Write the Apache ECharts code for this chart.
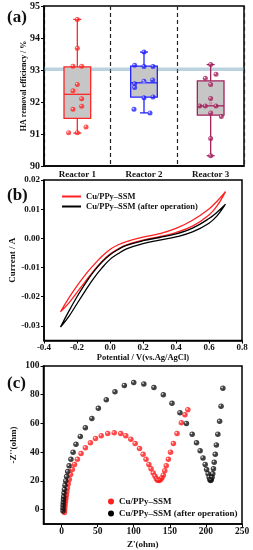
<!DOCTYPE html>
<html><head><meta charset="utf-8">
<script src="https://cdn.jsdelivr.net/npm/echarts@6/dist/echarts.min.js"></script>
<style>html,body{margin:0;padding:0;background:#fff}#c{width:253px;height:550px}</style>
</head><body><div id="c"></div><script>
// ---------- Panel (a) data ----------
const reactors = ['Reactor 1', 'Reactor 2', 'Reactor 3'];
// [min, Q1, median, Q3, max]
const boxStats = [
  [91.03, 91.49, 92.24, 93.10, 94.58],
  [91.66, 92.15, 92.60, 93.12, 93.56],
  [90.32, 91.59, 91.88, 92.66, 93.17]
];
// [position (reactor index, jittered), value]
const r1Points = [[1,94.58],[1,93.68],[0.935,93.12],[1.065,93.12],[1,92.55],[0.935,92.35],[1.065,92.10],[1.065,91.87],[0.935,91.77],[1.13,91.22],[0.87,91.04],[1,91.04]];
const r2Points = [[2,93.56],[1.86,93.15],[2,93.11],[2.135,93.11],[1.86,92.57],[1.86,92.45],[2,92.65],[2.13,92.69],[2,92.13],[2.135,92.16],[1.85,91.77],[2.09,91.66]];
const r3Points = [[3,93.17],[3.08,92.87],[2.92,92.74],[3,92.55],[3,92.11],[2.835,91.875],[2.92,91.875],[3.08,91.875],[3,91.66],[3.16,91.55],[3,90.86],[3,90.32]];
const meanPoints = [[1,92.37],[2,92.60],[3,91.96]];
const targetBand = [92.97, 93.08];

// ---------- Panel (b) data ----------
const cvPotential = [-0.3,-0.25,-0.2,-0.15,-0.1,-0.05,0,0.05,0.1,0.2,0.3,0.4,0.5,0.6,0.65,0.7];
const redUpper   = [-0.0252,-0.0205,-0.0163,-0.0125,-0.0092,-0.0062,-0.0038,-0.0022,-0.0011,0.0004,0.0016,0.0034,0.0062,0.0101,0.0128,0.0160];
const redLower   = [-0.0252,-0.0222,-0.0185,-0.0148,-0.0112,-0.0080,-0.0054,-0.0036,-0.0022,-0.0006,0.0006,0.0020,0.0042,0.0080,0.0112,0.0160];
const blackUpper = [-0.0304,-0.0250,-0.0200,-0.0155,-0.0115,-0.0082,-0.0056,-0.0038,-0.0024,-0.0008,0.0003,0.0015,0.0035,0.0068,0.0090,0.0117];
const blackLower = [-0.0304,-0.0268,-0.0224,-0.0180,-0.0138,-0.0102,-0.0072,-0.0052,-0.0036,-0.0018,-0.0006,0.0005,0.0022,0.0052,0.0078,0.0117];
const bXTicks = [-0.4,-0.2,0,0.2,0.4,0.6,0.8];
const bYTicks = [-0.03,-0.02,-0.01,0,0.01,0.02];

// ---------- Panel (c) data ----------
const redZre = [4,4.3,4.6,5,5.5,6,6.6,7.3,8.2,9.3,10.7,12.5,15,18,22,27,33,40,47,55,64,73,82,89,96,102,108,113,117,121,124,127,129.5,131.5,133,135,137,139,141,143,145,148,151,155,160,166,171,175];
const redZim = [-2,0,2,4,6,8,10,12.5,15,18,21,24.5,28,31.5,35,39,43,46.5,49.5,51.5,53,53.5,53,51.5,49,46,42.5,38.5,35,31.5,28.5,25.5,23.3,21.5,20.5,20.3,20.8,22,24,27,30.5,35,40,46,53,60.5,66,69.5];
const blkZre = [2,2,2.2,2.4,2.7,3,3.4,4,4.8,5.8,7,8.5,10.5,13,16,20,26,33,42,51,62,74,87,100,114,128,141,153,164,173,181,187,192,196,199,201,203,204.5,205.5,206.5,207.5,208.5,209.5,210.5,211.5,213,214.5,216.5,219,221,223.5];
const blkZim = [-1,1,3,5,7,9,11.5,14,17,20,23,26.5,30.5,35,40,45.5,51,57,63.5,70.5,76.5,82,86.5,88.5,87.5,85,80,74,67.5,60,52.5,46.5,41,36,31.5,28,25,22.5,20.8,20.2,20.8,22.5,25,28.5,33,38.5,45,52.5,61.5,72,84.5];
const cXTicks = [0,50,100,150,200,250];
const cYTicks = [0,20,40,60,80,100];

const seriesNames = ['Cu/PPy\u2013SSM', 'Cu/PPy\u2013SSM (after operation)'];
const boxColors = ['#ff2626', '#2424ff', '#a3205c'];
const meanColors = ['#ff9c9c', '#9c9cff', '#d08aa8'];

const FONT = '"Liberation Serif", "DejaVu Serif", serif';
const lbl = (size) => ({ fontFamily: FONT, fontWeight: 'bold', fontSize: size, color: '#111' });

function sphere(c) {
  return new echarts.graphic.RadialGradient(0.35, 0.35, 0.7, [
    { offset: 0, color: '#ffffff' }, { offset: 0.35, color: c }, { offset: 1, color: c }
  ]);
}

const chart = echarts.init(document.getElementById('c'), null, { renderer: 'canvas' });

const boxData = boxStats.map((s, i) => [i + 1].concat(s));
const loop = (up, lo) => cvPotential.map((v, i) => [v, up[i]]).concat(cvPotential.slice().reverse().map((v, i) => [v, lo[lo.length - 1 - i]]));
const pairs = (xs, ys) => xs.map((x, i) => [x, ys[i]]);

const valAxisCommon = {
  splitLine: { show: false },
  nameMoveOverlap: false,
  axisLine: { show: true, onZero: false, lineStyle: { color: '#000', width: 1.5 } }
};

const option = {
  animation: false,
  backgroundColor: '#fff',
  title: [
    { text: '(a)', left: 2, top: 4, textStyle: lbl(17) },
    { text: '(b)', left: 2, top: 182, textStyle: lbl(17) },
    { text: '(c)', left: 2, top: 370, textStyle: lbl(17) }
  ],
  grid: [
    { left: 44, width: 200, top: 6, height: 160, show: true, borderColor: '#000', borderWidth: 1.5 },
    { left: 44, width: 198, top: 180, height: 160.5, show: true, borderColor: '#000', borderWidth: 1.5 },
    { left: 43.5, width: 198.5, top: 366, height: 160.5, show: true, borderColor: '#000', borderWidth: 1.5 }
  ],
  legend: [
    { orient: 'vertical', left: 57, top: 187, itemWidth: 19, itemHeight: 2, itemGap: 1,
      textStyle: lbl(8.5), icon: 'rect',
      data: [{ name: seriesNames[0], itemStyle: { color: '#ff2020' } }, { name: seriesNames[1], itemStyle: { color: '#000' } }] },
    { orient: 'vertical', left: 103, top: 492, itemWidth: 6, itemHeight: 6, itemGap: 3,
      textStyle: lbl(9), icon: 'circle',
      data: [{ name: seriesNames[0], itemStyle: { color: '#ff2020' } }, { name: seriesNames[1], itemStyle: { color: '#000' } }] }
  ],
  xAxis: [
    { gridIndex: 0, type: 'category', data: reactors,
      axisLine: { show: true, lineStyle: { color: '#000', width: 1.5 } },
      axisTick: { show: false },
      axisLabel: Object.assign(lbl(9), { margin: 4 }),
      splitLine: { show: true, lineStyle: { color: '#222', type: [4, 3], width: 1.2 } } },
    { gridIndex: 0, type: 'value', min: 0.5, max: 3.5, show: false },
    Object.assign({ gridIndex: 1, type: 'value', min: -0.4, max: 0.8,
      name: 'Potential / V(vs.Ag/AgCl)', nameLocation: 'middle', nameGap: 13, nameTextStyle: lbl(8.5),
      axisLabel: Object.assign(lbl(9), { margin: 3, customValues: bXTicks, formatter: v => v.toFixed(1) }),
      axisTick: { show: true, length: 3, customValues: bXTicks }
    }, valAxisCommon),
    Object.assign({ gridIndex: 2, type: 'value', min: -25, max: 250,
      name: "Z'(ohm)", nameLocation: 'middle', nameGap: 16, nameTextStyle: lbl(9),
      axisLabel: Object.assign(lbl(9.5), { margin: 3, customValues: cXTicks }),
      axisTick: { show: true, length: 3, customValues: cXTicks }
    }, valAxisCommon)
  ],
  yAxis: [
    Object.assign({ gridIndex: 0, type: 'value', min: 90, max: 95, interval: 1,
      name: 'HA removal efficiency / %', nameLocation: 'middle', nameGap: 16, nameTextStyle: lbl(8),
      axisTick: { show: true, length: 3 },
      axisLabel: Object.assign(lbl(10), { margin: 4 }) }, valAxisCommon),
    Object.assign({ gridIndex: 1, type: 'value', min: -0.035, max: 0.02,
      name: 'Current / A', nameLocation: 'middle', nameGap: 27, nameTextStyle: lbl(9),
      axisTick: { show: true, length: 3, customValues: bYTicks },
      axisLabel: Object.assign(lbl(9), { margin: 4, customValues: bYTicks, formatter: v => v.toFixed(2) }) },
      valAxisCommon),
    Object.assign({ gridIndex: 2, type: 'value', min: -10, max: 100,
      name: "-Z''(ohm)", nameLocation: 'middle', nameGap: 25, nameTextStyle: lbl(9),
      axisTick: { show: true, length: 3, customValues: cYTicks },
      axisLabel: Object.assign(lbl(9.5), { margin: 4, customValues: cYTicks }) },
      valAxisCommon)
  ],
  series: [
    { type: 'custom', xAxisIndex: 1, yAxisIndex: 0, z: 2, data: boxData,
      renderItem: function (params, api) {
        const i = params.dataIndex, x = api.value(0);
        const v = [1, 2, 3, 4, 5].map(k => api.value(k));
        const pMin = api.coord([x, v[0]]), pQ1 = api.coord([x, v[1]]), pMd = api.coord([x, v[2]]),
              pQ3 = api.coord([x, v[3]]), pMax = api.coord([x, v[4]]);
        const bw = api.size([0.4, 0])[0], cw = api.size([0.12, 0])[0];
        const col = boxColors[i];
        const st = { stroke: col, lineWidth: 1.3, fill: null };
        return { type: 'group', children: [
          { type: 'line', shape: { x1: pMax[0], y1: pMax[1], x2: pQ3[0], y2: pQ3[1] }, style: st },
          { type: 'line', shape: { x1: pQ1[0], y1: pQ1[1], x2: pMin[0], y2: pMin[1] }, style: st },
          { type: 'line', shape: { x1: pMax[0] - cw / 2, y1: pMax[1], x2: pMax[0] + cw / 2, y2: pMax[1] }, style: st },
          { type: 'line', shape: { x1: pMin[0] - cw / 2, y1: pMin[1], x2: pMin[0] + cw / 2, y2: pMin[1] }, style: st },
          { type: 'rect', shape: { x: pQ3[0] - bw / 2, y: pQ3[1], width: bw, height: pQ1[1] - pQ3[1] },
            style: { fill: '#c6c6c6', stroke: col, lineWidth: 1.3 } },
          { type: 'line', shape: { x1: pMd[0] - bw / 2, y1: pMd[1], x2: pMd[0] + bw / 2, y2: pMd[1] }, style: st }
        ] };
      } },
    { type: 'scatter', xAxisIndex: 1, yAxisIndex: 0, z: 3, data: [], symbolSize: 0,
      markArea: { silent: true, itemStyle: { color: 'rgba(90,150,172,0.42)' },
        data: [[{ yAxis: targetBand[0] }, { yAxis: targetBand[1] }]] } },
    { type: 'scatter', xAxisIndex: 1, yAxisIndex: 0, z: 4, data: r1Points, symbolSize: 5, itemStyle: { color: sphere(boxColors[0]) } },
    { type: 'scatter', xAxisIndex: 1, yAxisIndex: 0, z: 4, data: r2Points, symbolSize: 5, itemStyle: { color: sphere(boxColors[1]) } },
    { type: 'scatter', xAxisIndex: 1, yAxisIndex: 0, z: 4, data: r3Points, symbolSize: 5, itemStyle: { color: sphere(boxColors[2]) } },
    { type: 'scatter', xAxisIndex: 1, yAxisIndex: 0, z: 4, data: meanPoints, symbolSize: 3.5,
      itemStyle: { color: p => meanColors[p.dataIndex] } },

    { name: seriesNames[0], type: 'line', xAxisIndex: 2, yAxisIndex: 1, data: loop(redUpper, redLower),
      smooth: 0.4, showSymbol: false, symbol: 'none', lineStyle: { color: '#ff2020', width: 1.3 }, itemStyle: { color: '#ff2020' } },
    { name: seriesNames[1], type: 'line', xAxisIndex: 2, yAxisIndex: 1, data: loop(blackUpper, blackLower),
      smooth: 0.4, showSymbol: false, symbol: 'none', lineStyle: { color: '#000', width: 1.3 }, itemStyle: { color: '#000' } },

    { name: seriesNames[0], type: 'scatter', xAxisIndex: 3, yAxisIndex: 2, data: pairs(redZre, redZim), symbolSize: 5.5,
      itemStyle: { color: sphere('#ff1a1a') } },
    { name: seriesNames[1], type: 'scatter', xAxisIndex: 3, yAxisIndex: 2, data: pairs(blkZre, blkZim), symbolSize: 5.5,
      itemStyle: { color: sphere('#111111') } }
  ]
};
chart.setOption(option);
</script></body></html>
